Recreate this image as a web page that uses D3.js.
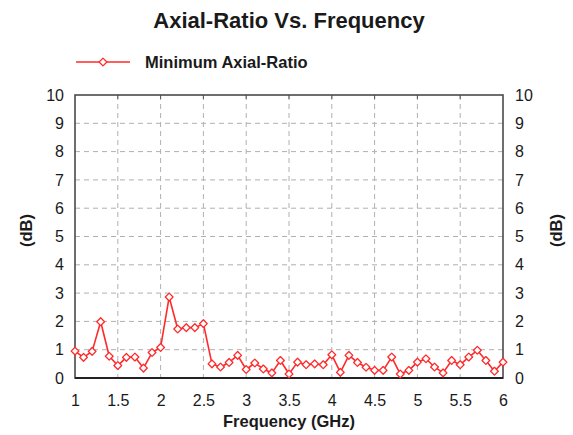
<!DOCTYPE html>
<html>
<head>
<meta charset="utf-8">
<script src="https://cdn.jsdelivr.net/npm/d3@7"></script>
<style>
  html, body { margin: 0; padding: 0; background: #fff; }
  svg { display: block; font-family: Arial, "Liberation Sans", sans-serif; }
</style>
</head>
<body>
<svg id="chart" width="573" height="435"></svg>
<script>
// Frequency sweep (GHz) and measured minimum axial ratio (dB)
const frequency = [
  1.0, 1.1, 1.2, 1.3, 1.4, 1.5, 1.6, 1.7, 1.8, 1.9,
  2.0, 2.1, 2.2, 2.3, 2.4, 2.5, 2.6, 2.7, 2.8, 2.9,
  3.0, 3.1, 3.2, 3.3, 3.4, 3.5, 3.6, 3.7, 3.8, 3.9,
  4.0, 4.1, 4.2, 4.3, 4.4, 4.5, 4.6, 4.7, 4.8, 4.9,
  5.0, 5.1, 5.2, 5.3, 5.4, 5.5, 5.6, 5.7, 5.8, 5.9, 6.0
];
const axialRatio = [
  0.95, 0.73, 0.94, 1.99, 0.77, 0.44, 0.73, 0.74, 0.35, 0.90,
  1.08, 2.86, 1.73, 1.78, 1.78, 1.92, 0.50, 0.39, 0.55, 0.80,
  0.30, 0.53, 0.32, 0.18, 0.62, 0.14, 0.56, 0.47, 0.50, 0.47,
  0.82, 0.20, 0.80, 0.55, 0.38, 0.27, 0.27, 0.74, 0.14, 0.27,
  0.56, 0.68, 0.39, 0.18, 0.62, 0.47, 0.74, 0.98, 0.62, 0.24, 0.56
];
const xTicks = [1, 1.5, 2, 2.5, 3, 3.5, 4, 4.5, 5, 5.5, 6];
const yTicks = [0, 1, 2, 3, 4, 5, 6, 7, 8, 9, 10];
const seriesName = "Minimum Axial-Ratio";

const svg = d3.select("#chart");
const plot = { left: 75, right: 503, top: 95, bottom: 378 };

const x = d3.scaleLinear().domain([1, 6]).range([plot.left, plot.right]);
const y = d3.scaleLinear().domain([0, 10]).range([plot.bottom, plot.top]);

const red = "#ff2a2a";
const textColor = "#1a1a1a";
const marker = d3.symbol(d3.symbolSquare, 30)();

// Title
svg.append("text")
  .attr("x", 289).attr("y", 28)
  .attr("text-anchor", "middle")
  .attr("font-size", 22).attr("font-weight", "bold")
  .attr("fill", textColor)
  .text("Axial-Ratio Vs. Frequency");

// Legend
const legend = svg.append("g");
legend.append("line")
  .attr("x1", 76).attr("x2", 130).attr("y1", 62).attr("y2", 62)
  .attr("stroke", red).attr("stroke-width", 1.5);
legend.append("path")
  .attr("transform", "translate(103,62) rotate(45)")
  .attr("d", marker)
  .attr("fill", "#fff").attr("stroke", red).attr("stroke-width", 1.3)
  .attr("stroke-linejoin", "round");
legend.append("text")
  .attr("x", 145).attr("y", 67.5)
  .attr("font-size", 16.5).attr("font-weight", "bold")
  .attr("fill", textColor)
  .text(seriesName);

// Grid lines
const grid = svg.append("g")
  .attr("stroke", "#b0b0b0").attr("stroke-width", 1)
  .attr("stroke-dasharray", "5,4");
grid.selectAll(".gx").data(xTicks.slice(1, -1)).join("line")
  .attr("x1", d => x(d)).attr("x2", d => x(d))
  .attr("y1", plot.top).attr("y2", plot.bottom);
grid.selectAll(".gy").data(yTicks.slice(1, -1)).join("line")
  .attr("x1", plot.left).attr("x2", plot.right)
  .attr("y1", d => y(d)).attr("y2", d => y(d));

// Axes: bottom with tick labels, left and right with labels only
const axisFont = g => g.selectAll("text")
  .attr("font-size", 16).attr("fill", textColor)
  .attr("font-family", "Arial, 'Liberation Sans', sans-serif");

svg.append("g")
  .attr("transform", `translate(0,${plot.bottom})`)
  .call(d3.axisBottom(x).tickValues(xTicks).tickSize(0).tickPadding(17)
    .tickFormat(d3.format("")))
  .call(g => g.select(".domain").remove())
  .call(axisFont);

svg.append("g")
  .attr("transform", `translate(${plot.left},0)`)
  .call(d3.axisLeft(y).tickValues(yTicks).tickSize(0).tickPadding(11))
  .call(g => g.select(".domain").remove())
  .call(axisFont);

svg.append("g")
  .attr("transform", `translate(${plot.right},0)`)
  .call(d3.axisRight(y).tickValues(yTicks).tickSize(0).tickPadding(12))
  .call(g => g.select(".domain").remove())
  .call(axisFont);

// Small ticks along the top border
svg.append("g").selectAll("line").data(xTicks.slice(1, -1)).join("line")
  .attr("x1", d => x(d)).attr("x2", d => x(d))
  .attr("y1", plot.top).attr("y2", plot.top + 4)
  .attr("stroke", "#555").attr("stroke-width", 1);

// Plot frame
svg.append("rect")
  .attr("x", plot.left).attr("y", plot.top)
  .attr("width", plot.right - plot.left).attr("height", plot.bottom - plot.top)
  .attr("fill", "none").attr("stroke", "#4a4a4a").attr("stroke-width", 1.6);
svg.append("line")
  .attr("x1", plot.left).attr("x2", plot.right)
  .attr("y1", plot.bottom).attr("y2", plot.bottom)
  .attr("stroke", "#222").attr("stroke-width", 2);

// Axis titles
svg.append("text")
  .attr("x", 289).attr("y", 427)
  .attr("text-anchor", "middle")
  .attr("font-size", 16.5).attr("font-weight", "bold").attr("fill", textColor)
  .text("Frequency (GHz)");

[26, 556].forEach(cx => {
  svg.append("text")
    .attr("transform", `translate(${cx},${(plot.top + plot.bottom) / 2 - 6}) rotate(-90)`)
    .attr("text-anchor", "middle").attr("dy", "0.35em")
    .attr("font-size", 16.5).attr("font-weight", "bold").attr("fill", textColor)
    .text("(dB)");
});

// Data series
const data = frequency.map((f, i) => ({ f, v: axialRatio[i] }));

svg.append("path")
  .datum(data)
  .attr("fill", "none").attr("stroke", red).attr("stroke-width", 1.6)
  .attr("stroke-linejoin", "round")
  .attr("d", d3.line().x(d => x(d.f)).y(d => y(d.v)));

svg.append("g").selectAll("path").data(data).join("path")
  .attr("transform", d => `translate(${x(d.f)},${y(d.v)}) rotate(45)`)
  .attr("d", marker)
  .attr("fill", "#fff").attr("stroke", red).attr("stroke-width", 1.3)
  .attr("stroke-linejoin", "round");
</script>
</body>
</html>
